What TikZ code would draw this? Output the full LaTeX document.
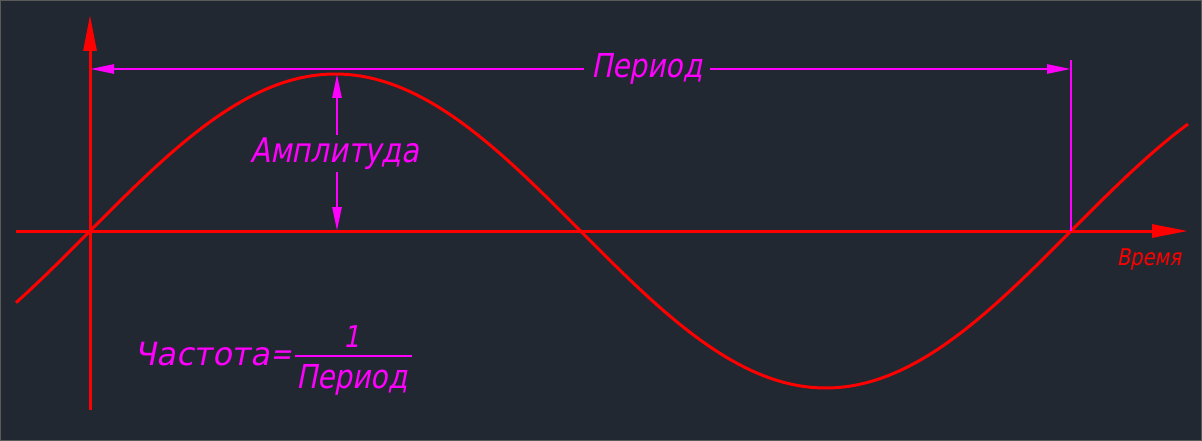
\documentclass[tikz,border=0pt]{standalone}
\usepackage{fontspec}
\newfontfamily\cadfont[FakeSlant=0.2,FakeStretch=0.85]{DejaVu Sans}
\newfontfamily\cadfontw[FakeSlant=0.2,FakeStretch=1.0]{DejaVu Sans}
\usetikzlibrary{arrows.meta}
\definecolor{fondo}{RGB}{34,40,49}
\definecolor{marco}{RGB}{90,90,90}
\definecolor{ejes}{RGB}{255,0,0}
\definecolor{cotas}{RGB}{255,0,255}

\begin{document}
\begin{tikzpicture}[x=1pt, y=-1pt, line width=3pt,
  eje/.style={draw=ejes, -{Triangle[length=36pt,width=13pt]}},
  flecha/.tip={Triangle[length=24pt,width=9pt]},
  rotulo/.style={text=cotas, font=\cadfont\fontsize{33}{40}\selectfont,
    anchor=base, inner xsep=6pt, inner ysep=1pt}]
  % fondo y marco (1 px = 1 pt, y hacia abajo)
  \useasboundingbox (0,0) rectangle (1202,441);
  \fill[fondo] (0,0) rectangle (1202,441);
  \draw[marco, line width=1pt] (0.5,0.5) rectangle (1201.5,440.5);
  % puntos: origen, cresta, fin del periodo
  \coordinate (O) at (90,231);
  \coordinate (Xa) at (16,231);
  \coordinate (Xb) at (1188,231);
  \coordinate (Ya) at (90,410);
  \coordinate (Yb) at (90,15);
  \coordinate (Pk) at (337,74);
  \coordinate (Pb) at (337,231);
  \coordinate (P0) at (90,69);
  \coordinate (P1) at (1071,69);
  \coordinate (Pe) at (1071,60);
  \coordinate (T) at (1071,231);
  \coordinate (Fa) at (295,356);
  \coordinate (Fb) at (412,356);
  % ejes
  \draw[eje] (Xa) -- (Xb);
  \draw[eje] (Ya) -- (Yb);
  % senoide
  \draw[ejes, domain=16:1188, samples=240, smooth]
    plot (\x, {231-157*sin(((\x-90)/981)*360)});
  % rotulos
  \node[rotulo] (per) at (647,78) {Период};
  \node[rotulo, font=\cadfont\fontsize{34}{40}\selectfont] (amp) at (335,162) {Амплитуда};
  \node[rotulo, text=ejes, font=\cadfont\fontsize{23}{28}\selectfont] (tiempo) at (1149,265) {Время};
  \node[rotulo, anchor=base west, inner xsep=0pt, font=\cadfontw\fontsize{32}{40}\selectfont] (frec) at (133,365) {Частота};
  \node[rotulo, font=\cadfont\fontsize{30}{40}\selectfont] (igual) at (281,364) {=};
  \node[rotulo, font=\cadfont\fontsize{30}{40}\selectfont] (uno) at (352,347) {1};
  \node[rotulo] (den) at (352,388) {Период};
  % cotas
  \begin{scope}[draw=cotas, line width=2.6pt]
    \draw[flecha-] (P0) -- (P0 -| per.west);
    \draw[-flecha] (per.east |- P1) -- (P1);
    \draw (Pe) -- (T);
    \draw[flecha-] (Pk) -- (Pk |- amp.north);
    \draw[-flecha] (Pk |- amp.south) -- (Pb);
    \draw (Fa) -- (Fb);
  \end{scope}
\end{tikzpicture}
\end{document}
